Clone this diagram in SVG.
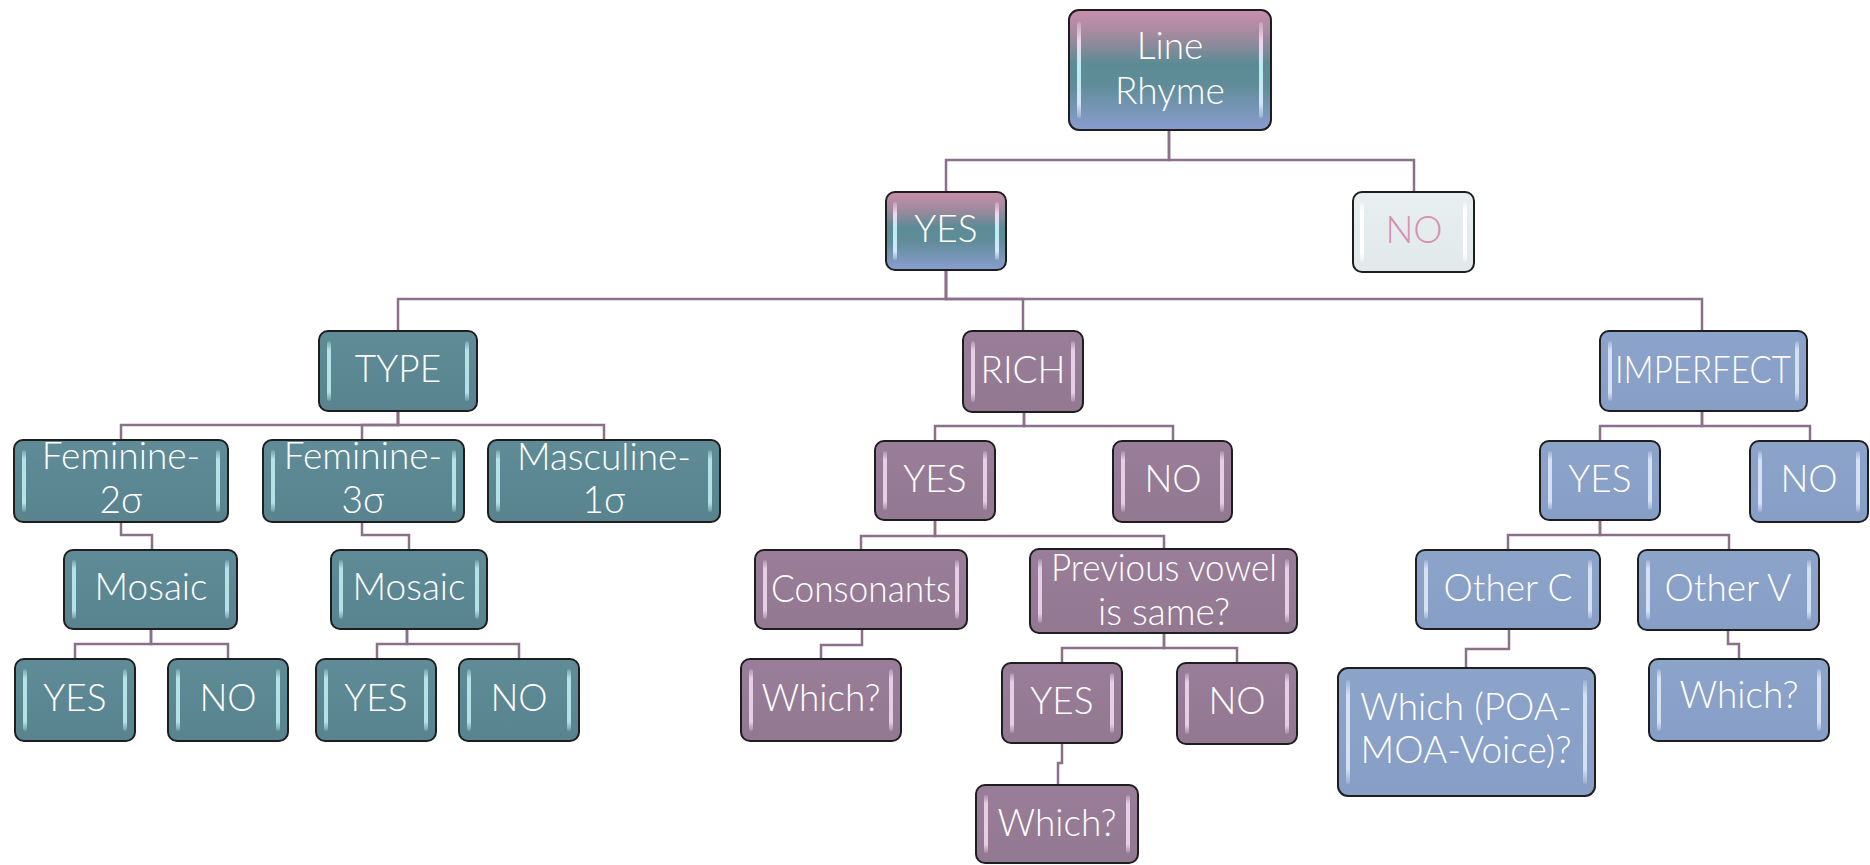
<svg xmlns="http://www.w3.org/2000/svg" width="1870" height="865" viewBox="0 0 1870 865">
<defs>
<linearGradient id="gTri" x1="0" y1="0" x2="0" y2="1">
<stop offset="0" stop-color="#c98fac"/>
<stop offset="0.22" stop-color="#a08a9e"/>
<stop offset="0.45" stop-color="#5c8b95"/>
<stop offset="0.62" stop-color="#5f8c98"/>
<stop offset="1" stop-color="#8a9ecf"/>
</linearGradient>
<linearGradient id="gTeal" x1="0" y1="0" x2="0" y2="1">
<stop offset="0" stop-color="#5f8c97"/>
<stop offset="1" stop-color="#58838f"/>
</linearGradient>
<linearGradient id="gPurple" x1="0" y1="0" x2="0" y2="1">
<stop offset="0" stop-color="#9a7e99"/>
<stop offset="1" stop-color="#937892"/>
</linearGradient>
<linearGradient id="gBlue" x1="0" y1="0" x2="0" y2="1">
<stop offset="0" stop-color="#8ca3ca"/>
<stop offset="1" stop-color="#879ec6"/>
</linearGradient>
<linearGradient id="gGrey" x1="0" y1="0" x2="0" y2="1">
<stop offset="0" stop-color="#e8eff1"/>
<stop offset="1" stop-color="#e1e9eb"/>
</linearGradient>
<linearGradient id="hTeal" x1="0" y1="0" x2="0" y2="1">
<stop offset="0" stop-color="#c4f2f6" stop-opacity="0.2"/>
<stop offset="0.15" stop-color="#c4f2f6" stop-opacity="0.85"/>
<stop offset="0.85" stop-color="#c4f2f6" stop-opacity="0.85"/>
<stop offset="1" stop-color="#c4f2f6" stop-opacity="0.2"/>
</linearGradient>
<linearGradient id="hPurple" x1="0" y1="0" x2="0" y2="1">
<stop offset="0" stop-color="#f4def3" stop-opacity="0.2"/>
<stop offset="0.15" stop-color="#f4def3" stop-opacity="0.85"/>
<stop offset="0.85" stop-color="#f4def3" stop-opacity="0.85"/>
<stop offset="1" stop-color="#f4def3" stop-opacity="0.2"/>
</linearGradient>
<linearGradient id="hBlue" x1="0" y1="0" x2="0" y2="1">
<stop offset="0" stop-color="#e4ecfb" stop-opacity="0.2"/>
<stop offset="0.15" stop-color="#e4ecfb" stop-opacity="0.85"/>
<stop offset="0.85" stop-color="#e4ecfb" stop-opacity="0.85"/>
<stop offset="1" stop-color="#e4ecfb" stop-opacity="0.2"/>
</linearGradient>
<linearGradient id="hTri" x1="0" y1="0" x2="0" y2="1">
<stop offset="0" stop-color="#f2d6ee" stop-opacity="0.3"/>
<stop offset="0.2" stop-color="#f2d6ee"/>
<stop offset="0.5" stop-color="#b8eef2"/>
<stop offset="0.85" stop-color="#d8e4fb"/>
<stop offset="1" stop-color="#d8e4fb" stop-opacity="0.3"/>
</linearGradient>
<linearGradient id="hGrey" x1="0" y1="0" x2="0" y2="1">
<stop offset="0" stop-color="#ffffff" stop-opacity="0.3"/>
<stop offset="0.15" stop-color="#ffffff"/>
<stop offset="0.85" stop-color="#ffffff"/>
<stop offset="1" stop-color="#ffffff" stop-opacity="0.3"/>
</linearGradient>
</defs>
<style>
.box{stroke:#1e1e1e;stroke-width:2}
.teal .box{fill:url(#gTeal)} .teal .hl{fill:url(#hTeal)}
.purple .box{fill:url(#gPurple)} .purple .hl{fill:url(#hPurple)}
.blue .box{fill:url(#gBlue)} .blue .hl{fill:url(#hBlue)}
.tri .box{fill:url(#gTri)} .tri .hl{fill:url(#hTri)}
.grey .box{fill:url(#gGrey)} .grey .hl{fill:url(#hGrey)}
text{font-family:Lato,"Liberation Sans",sans-serif;font-weight:300;font-size:37px;fill:#ffffff;text-anchor:middle}
.grey text{fill:#d690b2}
#connectors path{fill:none;stroke:#8c6f8a;stroke-width:2.5}
</style>
<rect width="1870" height="865" fill="#ffffff"/>
<g id="connectors">
<path d="M1169,130 V160 H946 V192"/>
<path d="M1169,130 V160 H1414 V192"/>
<path d="M946,270 V299 H398 V331"/>
<path d="M946,270 V299 H1023 V331"/>
<path d="M946,270 V299 H1702 V331"/>
<path d="M398,411 V425 H121 V440"/>
<path d="M398,411 V425 H362 V440"/>
<path d="M398,411 V425 H604 V440"/>
<path d="M121,522 V535 H152 V550"/>
<path d="M362,522 V535 H409 V550"/>
<path d="M151,629 V644 H75 V659"/>
<path d="M151,629 V644 H228 V659"/>
<path d="M407,629 V644 H377 V659"/>
<path d="M407,629 V644 H519 V659"/>
<path d="M1024,412 V426 H935 V441"/>
<path d="M1024,412 V426 H1173 V441"/>
<path d="M935,520 V536 H861 V550"/>
<path d="M935,520 V536 H1164 V549"/>
<path d="M862,629 V645 H821 V659"/>
<path d="M1164,633 V648 H1062 V663"/>
<path d="M1164,633 V648 H1237 V663"/>
<path d="M1062,743 V763 H1058 V785"/>
<path d="M1702,411 V426 H1600 V441"/>
<path d="M1702,411 V426 H1810 V441"/>
<path d="M1600,520 V535 H1508 V550"/>
<path d="M1600,520 V535 H1729 V550"/>
<path d="M1509,629 V649 H1466 V668"/>
<path d="M1728,630 V644 H1739 V659"/>
</g>

<g id="line-rhyme" class="tri">
<rect class="box" x="1069" y="10" width="202" height="120" rx="10"/>
<rect class="hl" x="1077" y="22" width="4" height="96" rx="2"/>
<rect class="hl" x="1259" y="22" width="4" height="96" rx="2"/>
<text x="1170" y="59">Line</text>
<text x="1170" y="104">Rhyme</text>
</g>
<g id="yes-top" class="tri">
<rect class="box" x="886" y="192" width="120" height="78" rx="9"/>
<rect class="hl" x="893" y="202" width="4" height="58" rx="2"/>
<rect class="hl" x="995" y="202" width="4" height="58" rx="2"/>
<text x="946" y="242">YES</text>
</g>
<g id="no-top" class="grey">
<rect class="box" x="1353" y="192" width="121" height="80" rx="9"/>
<rect class="hl" x="1360" y="202" width="4" height="60" rx="2"/>
<rect class="hl" x="1463" y="202" width="4" height="60" rx="2"/>
<text x="1414" y="243">NO</text>
</g>

<g id="type" class="teal">
<rect class="box" x="319" y="331" width="158" height="80" rx="9"/>
<rect class="hl" x="327" y="341" width="4" height="60" rx="2"/>
<rect class="hl" x="465" y="341" width="4" height="60" rx="2"/>
<text x="398" y="382">TYPE</text>
</g>
<g id="feminine-2" class="teal">
<rect class="box" x="14" y="440" width="214" height="82" rx="9"/>
<rect class="hl" x="22" y="450" width="4" height="62" rx="2"/>
<rect class="hl" x="216" y="450" width="4" height="62" rx="2"/>
<text x="121" y="469">Feminine-</text>
<text x="121" y="513">2σ</text>
</g>
<g id="feminine-3" class="teal">
<rect class="box" x="263" y="440" width="201" height="82" rx="9"/>
<rect class="hl" x="271" y="450" width="4" height="62" rx="2"/>
<rect class="hl" x="452" y="450" width="4" height="62" rx="2"/>
<text x="363" y="469">Feminine-</text>
<text x="363" y="513">3σ</text>
</g>
<g id="masculine-1" class="teal">
<rect class="box" x="488" y="440" width="232" height="82" rx="9"/>
<rect class="hl" x="496" y="450" width="4" height="62" rx="2"/>
<rect class="hl" x="708" y="450" width="4" height="62" rx="2"/>
<text x="604" y="470">Masculine-</text>
<text x="604" y="513">1σ</text>
</g>
<g id="mosaic-1" class="teal">
<rect class="box" x="64" y="550" width="173" height="79" rx="9"/>
<rect class="hl" x="72" y="560" width="4" height="59" rx="2"/>
<rect class="hl" x="225" y="560" width="4" height="59" rx="2"/>
<text x="151" y="600">Mosaic</text>
</g>
<g id="mosaic-2" class="teal">
<rect class="box" x="331" y="550" width="156" height="79" rx="9"/>
<rect class="hl" x="339" y="560" width="4" height="59" rx="2"/>
<rect class="hl" x="475" y="560" width="4" height="59" rx="2"/>
<text x="409" y="600">Mosaic</text>
</g>
<g id="m1-yes" class="teal">
<rect class="box" x="15" y="659" width="120" height="82" rx="9"/>
<rect class="hl" x="23" y="669" width="4" height="62" rx="2"/>
<rect class="hl" x="123" y="669" width="4" height="62" rx="2"/>
<text x="75" y="711">YES</text>
</g>
<g id="m1-no" class="teal">
<rect class="box" x="168" y="659" width="120" height="82" rx="9"/>
<rect class="hl" x="176" y="669" width="4" height="62" rx="2"/>
<rect class="hl" x="276" y="669" width="4" height="62" rx="2"/>
<text x="228" y="711">NO</text>
</g>
<g id="m2-yes" class="teal">
<rect class="box" x="316" y="659" width="120" height="82" rx="9"/>
<rect class="hl" x="324" y="669" width="4" height="62" rx="2"/>
<rect class="hl" x="424" y="669" width="4" height="62" rx="2"/>
<text x="376" y="711">YES</text>
</g>
<g id="m2-no" class="teal">
<rect class="box" x="459" y="659" width="120" height="82" rx="9"/>
<rect class="hl" x="467" y="669" width="4" height="62" rx="2"/>
<rect class="hl" x="567" y="669" width="4" height="62" rx="2"/>
<text x="519" y="711">NO</text>
</g>

<g id="rich" class="purple">
<rect class="box" x="963" y="331" width="120" height="81" rx="9"/>
<rect class="hl" x="971" y="341" width="4" height="61" rx="2"/>
<rect class="hl" x="1071" y="341" width="4" height="61" rx="2"/>
<text x="1023" y="383">RICH</text>
</g>
<g id="rich-yes" class="purple">
<rect class="box" x="875" y="441" width="120" height="79" rx="9"/>
<rect class="hl" x="883" y="451" width="4" height="59" rx="2"/>
<rect class="hl" x="983" y="451" width="4" height="59" rx="2"/>
<text x="935" y="492">YES</text>
</g>
<g id="rich-no" class="purple">
<rect class="box" x="1113" y="441" width="119" height="81" rx="9"/>
<rect class="hl" x="1121" y="451" width="4" height="61" rx="2"/>
<rect class="hl" x="1220" y="451" width="4" height="61" rx="2"/>
<text x="1173" y="492">NO</text>
</g>
<g id="consonants" class="purple">
<rect class="box" x="755" y="550" width="212" height="79" rx="9"/>
<rect class="hl" x="763" y="560" width="4" height="59" rx="2"/>
<rect class="hl" x="955" y="560" width="4" height="59" rx="2"/>
<text x="861" y="602" textLength="180" lengthAdjust="spacingAndGlyphs">Consonants</text>
</g>
<g id="previous-vowel" class="purple">
<rect class="box" x="1030" y="549" width="267" height="84" rx="9"/>
<rect class="hl" x="1038" y="559" width="4" height="64" rx="2"/>
<rect class="hl" x="1285" y="559" width="4" height="64" rx="2"/>
<text x="1164" y="581" textLength="226" lengthAdjust="spacingAndGlyphs">Previous vowel</text>
<text x="1164" y="625">is same?</text>
</g>
<g id="consonants-which" class="purple">
<rect class="box" x="741" y="659" width="160" height="82" rx="9"/>
<rect class="hl" x="749" y="669" width="4" height="62" rx="2"/>
<rect class="hl" x="889" y="669" width="4" height="62" rx="2"/>
<text x="821" y="711">Which?</text>
</g>
<g id="pv-yes" class="purple">
<rect class="box" x="1002" y="663" width="120" height="80" rx="9"/>
<rect class="hl" x="1010" y="673" width="4" height="60" rx="2"/>
<rect class="hl" x="1110" y="673" width="4" height="60" rx="2"/>
<text x="1062" y="714">YES</text>
</g>
<g id="pv-no" class="purple">
<rect class="box" x="1177" y="663" width="120" height="81" rx="9"/>
<rect class="hl" x="1185" y="673" width="4" height="61" rx="2"/>
<rect class="hl" x="1285" y="673" width="4" height="61" rx="2"/>
<text x="1237" y="714">NO</text>
</g>
<g id="pv-which" class="purple">
<rect class="box" x="976" y="785" width="162" height="78" rx="9"/>
<rect class="hl" x="984" y="795" width="4" height="58" rx="2"/>
<rect class="hl" x="1126" y="795" width="4" height="58" rx="2"/>
<text x="1057" y="836">Which?</text>
</g>

<g id="imperfect" class="blue">
<rect class="box" x="1600" y="331" width="207" height="80" rx="9"/>
<rect class="hl" x="1608" y="341" width="4" height="60" rx="2"/>
<rect class="hl" x="1795" y="341" width="4" height="60" rx="2"/>
<text x="1703" y="383" textLength="176" lengthAdjust="spacingAndGlyphs">IMPERFECT</text>
</g>
<g id="imp-yes" class="blue">
<rect class="box" x="1540" y="441" width="120" height="79" rx="9"/>
<rect class="hl" x="1548" y="451" width="4" height="59" rx="2"/>
<rect class="hl" x="1648" y="451" width="4" height="59" rx="2"/>
<text x="1600" y="492">YES</text>
</g>
<g id="imp-no" class="blue">
<rect class="box" x="1750" y="441" width="118" height="81" rx="9"/>
<rect class="hl" x="1758" y="451" width="4" height="61" rx="2"/>
<rect class="hl" x="1856" y="451" width="4" height="61" rx="2"/>
<text x="1809" y="492">NO</text>
</g>
<g id="other-c" class="blue">
<rect class="box" x="1416" y="550" width="184" height="79" rx="9"/>
<rect class="hl" x="1424" y="560" width="4" height="59" rx="2"/>
<rect class="hl" x="1588" y="560" width="4" height="59" rx="2"/>
<text x="1508" y="601">Other C</text>
</g>
<g id="other-v" class="blue">
<rect class="box" x="1638" y="550" width="181" height="80" rx="9"/>
<rect class="hl" x="1646" y="560" width="4" height="60" rx="2"/>
<rect class="hl" x="1807" y="560" width="4" height="60" rx="2"/>
<text x="1728" y="601">Other V</text>
</g>
<g id="which-poa" class="blue">
<rect class="box" x="1338" y="668" width="257" height="128" rx="10"/>
<rect class="hl" x="1346" y="680" width="4" height="104" rx="2"/>
<rect class="hl" x="1583" y="680" width="4" height="104" rx="2"/>
<text x="1466" y="720">Which (POA-</text>
<text x="1466" y="763">MOA-Voice)?</text>
</g>
<g id="other-v-which" class="blue">
<rect class="box" x="1649" y="659" width="180" height="82" rx="9"/>
<rect class="hl" x="1657" y="669" width="4" height="62" rx="2"/>
<rect class="hl" x="1817" y="669" width="4" height="62" rx="2"/>
<text x="1739" y="708">Which?</text>
</g>
</svg>
